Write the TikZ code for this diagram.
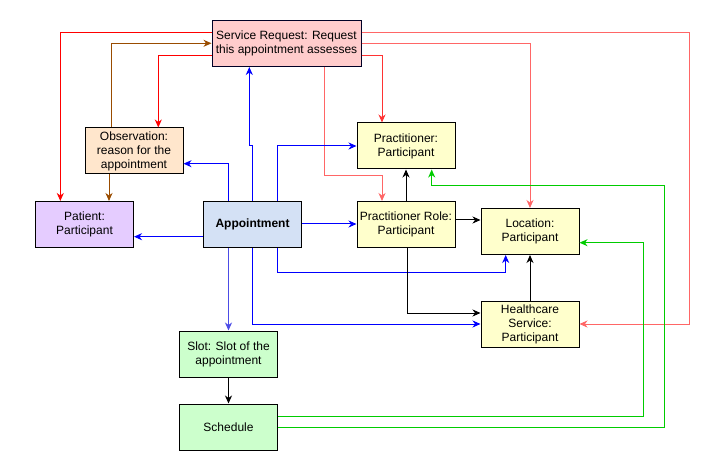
\documentclass[tikz,border=0pt]{standalone}
\usepackage{fontspec}
\setmainfont{Liberation Sans}
\usetikzlibrary{arrows.meta}

\definecolor{srFill}{HTML}{FFCCCC}
\definecolor{obsFill}{HTML}{FFE6CC}
\definecolor{patFill}{HTML}{E5CCFF}
\definecolor{apptFill}{HTML}{D4E1F5}
\definecolor{partFill}{HTML}{FFFFCC}
\definecolor{slotFill}{HTML}{CCFFCC}
\definecolor{brownLine}{HTML}{994C00}
\definecolor{paleRed}{HTML}{FF6666}
\definecolor{midRed}{HTML}{FF3333}
\definecolor{paleBlue}{HTML}{4C4CE6}
\definecolor{greenLine}{HTML}{00CC00}

\begin{document}
\begin{tikzpicture}
[x=1pt,y=-1pt,
  box/.style={shape=rectangle,draw=black,line width=1pt,inner sep=0pt,
    minimum width=98pt,minimum height=46pt,align=center,
    font=\fontsize{12}{14}\selectfont},%
  wideBox/.style={box,minimum width=149pt,draw=black!85!blue},%
  link/.style={line width=1pt,-{Stealth[length=8pt,width=7pt,inset=2.5pt]}}]
\useasboundingbox (0,0) rectangle (723,473);
%% draw the nodes
\node (sr) at (286.5,43.5) [wideBox,fill=srFill] {Service Request: Request\\this appointment assesses};
\foreach \nodename/\x/\y/\fillcol/\txt in {
  obs/134/151/obsFill/{Observation:\\reason for the\\appointment},
  patient/84.5/224.5/patFill/{Patient:\\Participant},
  appt/252.5/224.5/apptFill/{\bfseries Appointment},
  prac/406/146/partFill/{Practitioner:\\Participant},
  role/406/224.5/partFill/{Practitioner Role:\\Participant},
  loc/530/231.5/partFill/{Location:\\Participant},
  hs/530/324/partFill/{Healthcare\\Service:\\Participant},
  slot/228.5/354/slotFill/{Slot: Slot of the\\appointment},
  sched/228.5/427/slotFill/{Schedule}}
{
  \node (\nodename) at (\x,\y) [box,fill=\fillcol] {\txt};
}
%% service request edges
\draw[link,red] (sr.west |- 0,32.7) -| (patient.north -| 60.3,0);
\draw[link,red] (sr.west |- 0,55.3) -| (obs.north -| 158.3,0);
\draw[link,brownLine] (obs.north -| 111,0) |- (sr.west |- 0,43.3);
\draw[link,brownLine] (obs.south -| 109,0) -- (patient.north -| 109,0);
\draw[link,paleRed] (sr.east |- 0,32.7) -| (689,324) -- (hs.east |- 0,324);
\draw[link,paleRed] (sr.east |- 0,43.3) -| (loc.north);
\draw[link,midRed] (sr.east |- 0,55.3) -| (prac.north -| 382,0);
\draw[link,paleRed] (sr.south -| 324,0) |- (382,176) -- (role.north -| 382,0);
%% appointment edges
\draw[link,blue] (appt.west |- 0,236.7) -- (patient.east |- 0,236.7);
\draw[link,blue] (appt.east |- 0,224) -- (role.west |- 0,224);
\draw[link,blue] (appt.north -| 228.7,0) |- (obs.east |- 0,163.7);
\draw[link,blue] (appt.north -| 252.3,0) -- (252.3,145.3) -- (249.3,145.3) -- (sr.south -| 249.3,0);
\draw[link,blue] (appt.north -| 277,0) |- (prac.west |- 0,146);
\draw[link,blue] (appt.south -| 277,0) |- (505.7,272) -- (loc.south -| 505.7,0);
\draw[link,blue] (appt.south -| 252,0) |- (hs.west |- 0,324);
\draw[link,paleBlue] (appt.south -| 228.5,0) -- (slot.north);
%% participant edges
\draw[link] (role.north) -- (prac.south);
\draw[link] (role.east |- 0,220) -- (loc.west |- 0,220);
\draw[link] (role.south -| 407,0) |- (hs.west |- 0,313);
\draw[link] (hs.north) -- (loc.south);
\draw[link] (slot.south) -- (sched.north);
%% schedule edges
\draw[link,greenLine] (sched.east |- 0,416) -| (643,242.7) -- (loc.east |- 0,242.7);
\draw[link,greenLine] (sched.east |- 0,427) -| (664,186) -| (prac.south -| 431.7,0);
\end{tikzpicture}
\end{document}
